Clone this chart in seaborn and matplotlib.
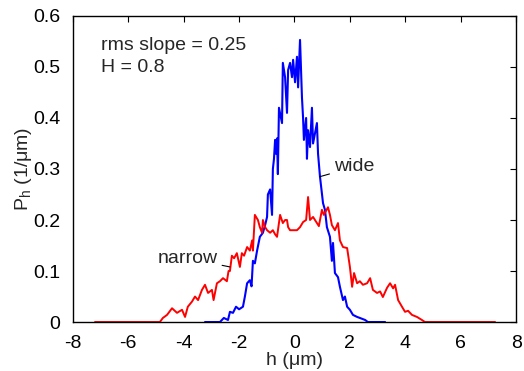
import matplotlib
matplotlib.use("Agg")
import matplotlib.pyplot as plt
import seaborn as sns
import pandas as pd

# height distribution, "wide" case (blue)
wide_h = [-3.23, -2.69, -2.55, -2.40, -2.33, -2.22, -2.11, -2.00, -1.86, -1.79,
          -1.71, -1.61, -1.55, -1.50, -1.43, -1.35, -1.25, -1.14, -1.06, -0.99,
          -0.96, -0.88, -0.81, -0.78, -0.74, -0.70, -0.67, -0.63, -0.60, -0.56,
          -0.45, -0.42, -0.34, -0.27, -0.23, -0.16, -0.09, -0.05, 0.02, 0.09,
          0.13, 0.20, 0.27, 0.31, 0.34, 0.42, 0.45, 0.49, 0.56, 0.63,
          0.67, 0.74, 0.81, 0.85, 0.92, 1.03, 1.10, 1.17, 1.28, 1.35,
          1.39, 1.46, 1.57, 1.64, 1.75, 1.82, 1.90, 2.00, 2.11, 2.26,
          2.36, 2.55, 2.65, 3.27]
wide_p = [0.0, 0.0, 0.008, 0.004, 0.02, 0.018, 0.03, 0.025, 0.03, 0.05,
          0.076, 0.082, 0.07, 0.12, 0.115, 0.14, 0.167, 0.175, 0.19, 0.206,
          0.25, 0.26, 0.21, 0.30, 0.32, 0.357, 0.33, 0.36, 0.29, 0.42,
          0.39, 0.508, 0.48, 0.41, 0.494, 0.508, 0.48, 0.514, 0.47, 0.52,
          0.46, 0.553, 0.44, 0.40, 0.357, 0.40, 0.32, 0.376, 0.343, 0.42,
          0.35, 0.37, 0.39, 0.33, 0.285, 0.233, 0.22, 0.186, 0.167, 0.12,
          0.155, 0.096, 0.088, 0.069, 0.043, 0.05, 0.03, 0.024, 0.014, 0.01,
          0.008, 0.004, 0.0, 0.0]

# height distribution, "narrow" case (red)
narrow_h = [-7.20, -4.86, -4.75, -4.60, -4.42, -4.24, -4.06, -3.95, -3.85, -3.70,
            -3.59, -3.48, -3.34, -3.23, -3.12, -2.98, -2.92, -2.80, -2.69, -2.58,
            -2.44, -2.38, -2.33, -2.26, -2.18, -2.08, -1.97, -1.90, -1.82, -1.71,
            -1.61, -1.53, -1.50, -1.43, -1.32, -1.25, -1.17, -1.14, -1.06, -0.99,
            -0.88, -0.78, -0.70, -0.63, -0.52, -0.42, -0.34, -0.27, -0.23, -0.16,
            -0.05, 0.09, 0.20, 0.31, 0.42, 0.49, 0.56, 0.67, 0.81, 0.88,
            0.99, 1.06, 1.21, 1.28, 1.35, 1.46, 1.57, 1.64, 1.75, 1.90,
            2.00, 2.08, 2.15, 2.26, 2.36, 2.47, 2.62, 2.73, 2.83, 2.98,
            3.09, 3.19, 3.34, 3.45, 3.56, 3.63, 3.74, 3.88, 3.99, 4.10,
            4.24, 4.42, 4.60, 4.71, 7.24]
narrow_p = [0.0, 0.0, 0.008, 0.014, 0.027, 0.018, 0.024, 0.01, 0.03, 0.04,
            0.05, 0.043, 0.063, 0.073, 0.057, 0.063, 0.043, 0.076, 0.08, 0.086,
            0.08, 0.10, 0.10, 0.13, 0.125, 0.135, 0.108, 0.135, 0.13, 0.147,
            0.14, 0.16, 0.14, 0.21, 0.20, 0.186, 0.175, 0.20, 0.186, 0.18,
            0.175, 0.18, 0.172, 0.167, 0.21, 0.194, 0.20, 0.20, 0.186, 0.18,
            0.18, 0.18, 0.186, 0.196, 0.20, 0.245, 0.20, 0.206, 0.194, 0.188,
            0.22, 0.21, 0.225, 0.21, 0.19, 0.18, 0.194, 0.16, 0.147, 0.145,
            0.108, 0.069, 0.096, 0.076, 0.08, 0.073, 0.076, 0.086, 0.063, 0.057,
            0.06, 0.049, 0.067, 0.076, 0.066, 0.073, 0.043, 0.03, 0.02, 0.022,
            0.014, 0.01, 0.004, 0.0, 0.0]

wide = pd.DataFrame({"h": wide_h, "P": wide_p})
narrow = pd.DataFrame({"h": narrow_h, "P": narrow_p})

sns.set_style("white")
plt.rcParams["font.family"] = ["Liberation Sans", "DejaVu Sans"]
plt.rcParams["mathtext.fontset"] = "custom"
plt.rcParams["mathtext.rm"] = "Liberation Sans"
plt.rcParams["mathtext.default"] = "regular"
plt.rcParams["axes.unicode_minus"] = False

fig = plt.figure(figsize=(5.24, 3.71), dpi=100)
ax = fig.add_axes([0.139, 0.132, 0.846, 0.825])

sns.lineplot(data=wide, x="h", y="P", color="#0000ff", lw=1.5, estimator=None, sort=False, ax=ax)
sns.lineplot(data=narrow, x="h", y="P", color="#ff0000", lw=1.4, estimator=None, sort=False, ax=ax)

ax.set_xlim(-8, 8)
ax.set_ylim(0, 0.6)
ax.set_xticks(range(-8, 9, 2))
ax.set_yticks([0, 0.1, 0.2, 0.3, 0.4, 0.5, 0.6])
ax.set_yticklabels(["0", "0.1", "0.2", "0.3", "0.4", "0.5", "0.6"])
ax.tick_params(direction="in", length=4, width=0.8, top=True, right=True,
               labelsize=14, colors="black")
ax.tick_params(axis="x", pad=9)
ax.tick_params(axis="y", pad=9)
for s in ax.spines.values():
    s.set_color("black")
    s.set_linewidth(1.0)

ax.set_xlabel("h (μm)", fontsize=14, labelpad=0)
ax.set_ylabel("P$_{h}$ (1/μm)", fontsize=14, labelpad=-1)

ax.text(-6.98, 0.543, "rms slope = 0.25", fontsize=14, va="center")
ax.text(-6.98, 0.498, "H = 0.8", fontsize=14, va="center")

ax.annotate("wide", xy=(0.92, 0.285), xytext=(1.43, 0.304), fontsize=14, va="center",
            arrowprops=dict(arrowstyle="-", color="black", lw=0.8, shrinkA=1, shrinkB=0))
ax.annotate("narrow", xy=(-2.33, 0.108), xytext=(-2.78, 0.125), fontsize=14, va="center", ha="right",
            arrowprops=dict(arrowstyle="-", color="black", lw=0.8, shrinkA=1, shrinkB=0))

fig.savefig("out.png", dpi=100)
